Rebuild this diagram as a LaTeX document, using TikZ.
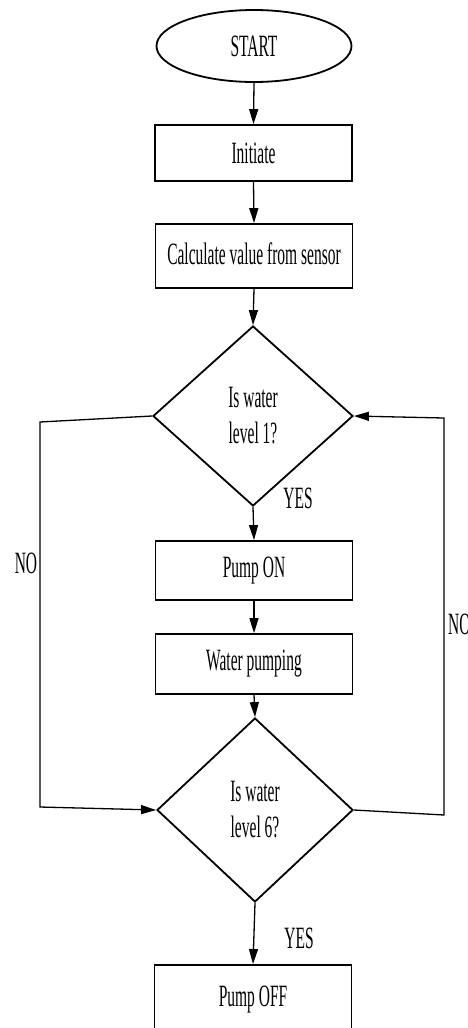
\documentclass[tikz,border=0pt]{standalone}
\usepackage{fontspec}
\newfontfamily\narrowserif[FakeStretch=0.5]{Liberation Serif}
\usetikzlibrary{shapes.geometric,arrows.meta}
\tikzset{
  base/.style={draw=black, line width=1.8pt, inner sep=0pt, font=\narrowserif\fontsize{31}{36}\selectfont, align=center},
  procbox/.style={base, rectangle, minimum width=197pt},
  termbox/.style={base, ellipse, minimum width=195pt, minimum height=72pt},
  decbox/.style={base, diamond, minimum width=200pt, minimum height=180pt},
  conn/.style={draw=black, line width=1.3pt},
  arr/.style={conn, -{Triangle[length=15pt,width=9pt]}},
  lbl/.style={font=\narrowserif\fontsize{31}{36}\selectfont, inner sep=0pt}
}
\begin{document}
\begin{tikzpicture}[x=1pt,y=-1pt]
\clip (0,0) rectangle (468,1028);
\fill[white] (0,0) rectangle (468,1028);
\node[termbox] (start) at (254,46) {START};
\node[procbox, minimum height=56pt] (init) at (253.5,153) {Initiate};
\node[procbox, minimum height=64pt] (calc) at (254,256) {\raisebox{4pt}{Calculate value from sensor}};
\node[decbox] (d1) at (253,416) {Is water\\level 1?};
\node[procbox, minimum height=59pt] (pon) at (254,570.5) {\raisebox{3pt}{Pump ON}};
\node[procbox, minimum height=60pt] (wp) at (254,664) {Water pumping};
\node[decbox, minimum width=196pt, minimum height=184pt] (d2) at (255,810) {Is water\\level 6?};
\node[procbox, minimum height=90pt, anchor=north] (poff) at (253,964) {\raisebox{28pt}{Pump OFF}};

\coordinate (l1) at (40,422);
\coordinate (l2) at (40,807);
\coordinate (r1) at (444,815);
\coordinate (r2) at (444,418);

\draw[arr] (start.south) -- (init.north);
\draw[arr] (init.south) -- (calc.north);
\draw[arr] (calc.south) -- (d1.north);
\draw[arr] (d1.south) -- (pon.north);
\draw[arr] (pon.south) -- (wp.north);
\draw[arr] (wp.south) -- (d2.north);
\draw[arr] (d2.south) -- (poff.north);
\draw[arr] (d1.west) -- (l1) -- (l2) -- (d2.west);
\draw[arr] (d2.east) -- (r1) -- (r2) -- (d1.east);

\node[lbl] (yes1) at (298,498) {YES};
\node[lbl] (yes2) at (299,938) {YES};
\node[lbl] (no1) at (26,563) {NO};
\node[lbl, anchor=west] (no2) at (448,624) {NO};
\end{tikzpicture}
\end{document}
